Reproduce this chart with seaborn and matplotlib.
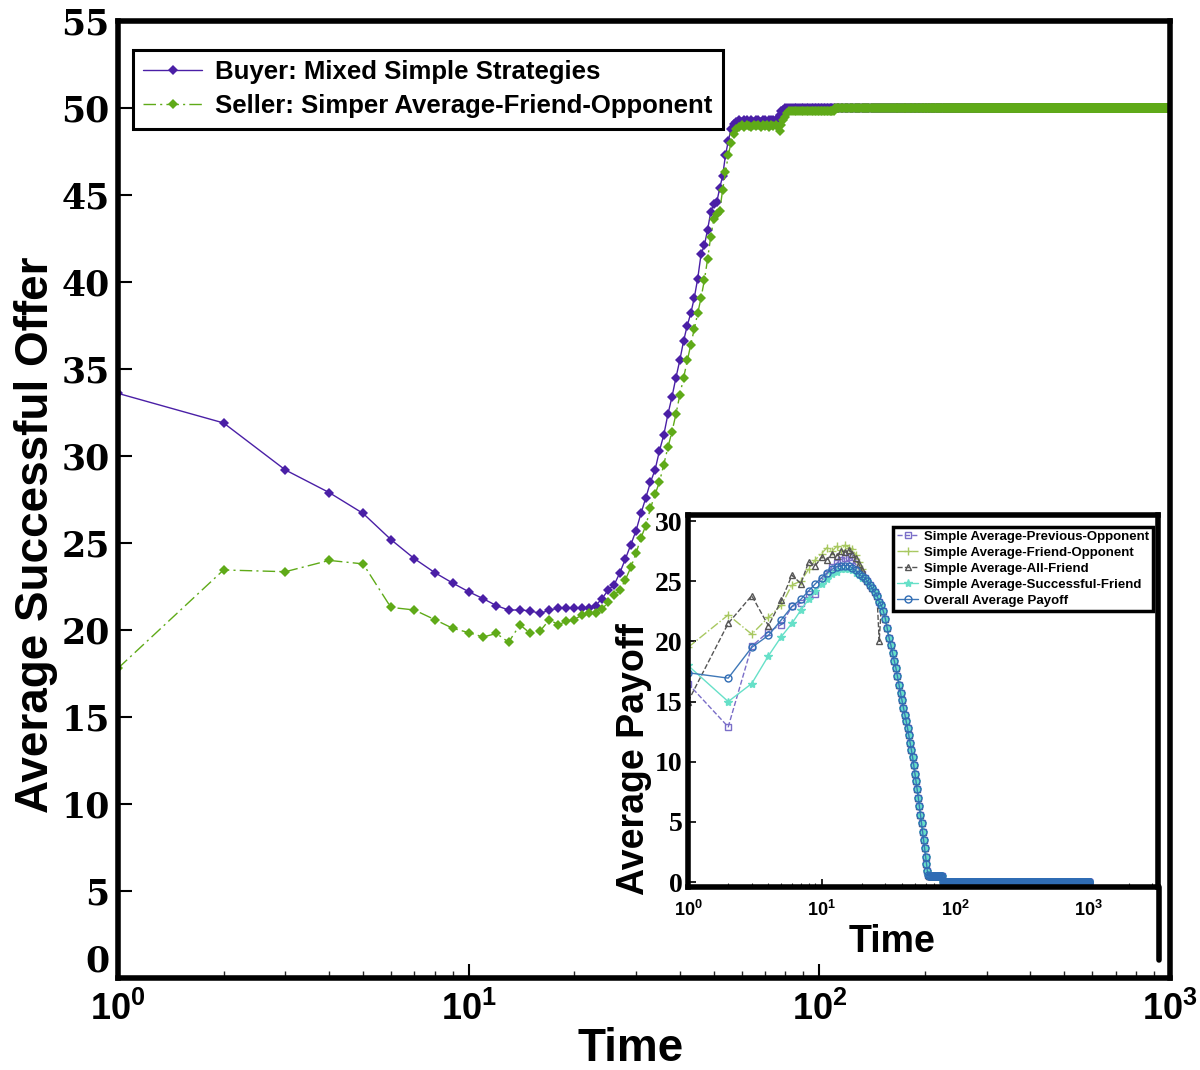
import numpy as np
import pandas as pd
import matplotlib
matplotlib.use("Agg")
import matplotlib.pyplot as plt
import seaborn as sns
from matplotlib import font_manager
from matplotlib.lines import Line2D
from matplotlib.ticker import LogLocator, NullFormatter

# ---------------- main chart data (value per time step) ----------------
buyer_early = [33.6, 31.9, 29.2, 27.9, 26.7, 25.2, 24.1, 23.3, 22.7, 22.2, 21.8, 21.4,
               21.15, 21.15, 21.1, 20.95, 21.15, 21.25, 21.25, 21.25, 21.25, 21.25, 21.4, 21.8]
buyer_rise = [22.3, 22.6, 23.3, 24.1, 24.9, 25.7, 26.7, 27.6, 28.5, 29.2, 30.3, 31.2, 32.4,
              33.4, 34.5, 35.5, 36.6, 37.5, 38.2, 39.1, 40.2, 41.6, 42.1, 43.0, 44.0, 44.5,
              44.6, 45.4, 46.1, 47.3, 48.1, 48.8, 49.1]
buyer_plateau = [49.2, 49.3, 49.2, 49.3, 49.3, 49.2, 49.3, 49.2, 49.3, 49.3, 49.2, 49.3,
                 49.3, 49.2, 49.3, 49.3, 49.3, 49.3, 49.4, 49.6, 49.8, 49.9]
buyer_final = 50.0

seller_early = [17.8, 23.45, 23.35, 24.0, 23.8, 21.3, 21.15, 20.6, 20.1, 19.85, 19.6, 19.8,
                19.3, 20.3, 19.8, 19.95, 20.6, 20.3, 20.5, 20.6, 20.85, 20.95, 21.0, 21.2]
seller_rise = [21.6, 22.0, 22.3, 22.9, 23.6, 24.4, 25.3, 26.0, 27.0, 27.8, 28.5, 29.5, 30.5,
               31.4, 32.4, 33.5, 34.5, 35.5, 36.4, 37.3, 38.2, 39.1, 40.1, 41.3, 42.6, 43.6,
               43.9, 44.1, 45.3, 46.3, 47.3, 48.0, 48.5]
seller_plateau = [48.8, 48.9, 49.0, 48.9, 49.0, 48.95, 48.9, 49.0, 48.95, 49.0, 48.9, 49.0,
                  48.95, 49.0, 48.9, 49.0, 48.95, 49.0, 48.9, 48.7, 49.0, 49.3, 49.5, 49.7, 49.8]
seller_near = 49.85
seller_final = 50.0

main_yticks = [0, 5, 10, 15, 20, 25, 30, 35, 40, 45, 50, 55]
main_xticks = [1, 10, 100, 1000]
xtick_labels = [r'$\mathbf{10^{0}}$', r'$\mathbf{10^{1}}$', r'$\mathbf{10^{2}}$', r'$\mathbf{10^{3}}$']
N_STEPS = 1000

# ---------------- inset data ----------------
prev_opp_start = [16.5, 12.9, 19.6, 20.8, 21.4, 22.9, 23.2, 23.9, 23.9, 25.0, 25.6, 26.2,
                  26.5, 26.8, 26.9, 27.0, 26.8, 26.4, 26.0, 25.6]
friend_opp_start = [19.5, 22.2, 20.6, 22.0, 23.0, 24.7, 25.0, 26.0, 26.8, 27.3, 27.8, 27.5,
                    27.9, 27.6, 28.0, 27.8, 27.7, 27.2, 26.6, 26.0]
all_friend_start = [15.0, 21.5, 23.8, 21.3, 23.4, 25.5, 24.8, 26.6, 26.3, 27.0, 26.8, 27.3,
                    27.1, 27.5, 27.4, 27.6, 27.3, 26.9, 26.4, 25.9]
succ_friend_start = [18.0, 15.0, 16.5, 18.8, 20.4, 21.5, 22.6, 23.5, 24.2, 24.8, 25.2, 25.6,
                     25.8, 26.0, 26.0, 26.0, 25.9, 25.7, 25.5, 25.3]
overall_start = [17.4, 16.95, 19.5, 20.5, 21.8, 22.9, 23.5, 24.2, 24.8, 25.3, 25.7, 26.0,
                 26.2, 26.3, 26.3, 26.3, 26.1, 25.9, 25.6, 25.4]
payoff_decline = [25.3, 25.0, 24.7, 24.4, 24.1, 23.8, 23.3, 23.0, 22.5, 21.9, 21.1, 20.3,
                  19.7, 19.0, 18.4, 17.8, 17.1, 16.4, 15.7, 15.1, 14.5, 13.9, 13.4, 12.8,
                  12.2, 11.6, 11.0, 10.4, 9.7, 9.0, 8.4, 7.7, 7.0, 6.3, 5.6, 4.9, 4.2, 3.5,
                  2.8, 2.1, 1.5, 0.9, 0.6]
payoff_bump = [0.5] * 17
payoff_final = 0.0
all_friend_dip = {27: 20.0}

inset_yticks = [0, 5, 10, 15, 20, 25, 30]
inset_names = ["Simple Average-Previous-Opponent", "Simple Average-Friend-Opponent",
               "Simple Average-All-Friend", "Simple Average-Successful-Friend",
               "Overall Average Payoff"]


def full_series(parts, tail_value):
    vals = [v for p in parts for v in p]
    return vals + [tail_value] * (N_STEPS - len(vals))


t = np.arange(1, N_STEPS + 1)
buyer = full_series([buyer_early, buyer_rise, buyer_plateau], buyer_final)
seller_part = seller_early + seller_rise + seller_plateau
seller_part = seller_part + [seller_near] * (110 - len(seller_part))
seller = full_series([seller_part], seller_final)

main_df = pd.DataFrame({"Time": t, "buyer": buyer, "seller": seller})

inset_series = []
for start in [prev_opp_start, friend_opp_start, all_friend_start, succ_friend_start, overall_start]:
    inset_series.append(full_series([start, payoff_decline, payoff_bump], payoff_final))
for k, v in all_friend_dip.items():
    inset_series[2][k - 1] = v
inset_df = pd.DataFrame({"Time": t})
for name, vals in zip(inset_names, inset_series):
    inset_df[name] = vals

# ---------------- style ----------------
sns.set_theme(style="white")
names = {f.name for f in font_manager.fontManager.ttflist}
NARROW = "Liberation Sans Narrow" if "Liberation Sans Narrow" in names else "Liberation Sans"
plt.rcParams['font.family'] = ['Liberation Sans', 'DejaVu Sans']
plt.rcParams['text.color'] = 'black'
plt.rcParams['axes.labelcolor'] = 'black'
plt.rcParams['mathtext.fontset'] = 'custom'
plt.rcParams['mathtext.bf'] = NARROW + ':bold'
plt.rcParams['mathtext.rm'] = NARROW + ':bold'

BUYER_C = "#4A1FA6"
SELLER_C = "#5FAA18"

fig = plt.figure(figsize=(12, 10.7), dpi=100)
ax = fig.add_axes([118 / 1200, 1 - 978 / 1070, 1052 / 1200, 957 / 1070])

sns.lineplot(data=main_df, x="Time", y="buyer", ax=ax, color=BUYER_C, marker="D",
             markersize=5, markeredgewidth=0, markeredgecolor=BUYER_C, linewidth=1.0,
             estimator=None, label="Buyer: Mixed Simple Strategies")
sns.lineplot(data=main_df, x="Time", y="seller", ax=ax, color=SELLER_C, marker="D",
             markersize=5, markeredgewidth=0, markeredgecolor=SELLER_C, linewidth=1.0,
             estimator=None, linestyle=(0, (9, 3, 1.5, 3)),
             label="Seller: Simper Average-Friend-Opponent")

ax.set_xscale("log")
ax.set_xlim(1, 1000)
ax.set_ylim(0, 55)
ax.set_yticks(main_yticks)
ax.set_yticklabels([str(v) for v in main_yticks])
ax.set_xticks(main_xticks)
ax.set_xticklabels(xtick_labels)
ax.xaxis.set_minor_locator(LogLocator(base=10, subs=np.arange(2, 10)))
ax.xaxis.set_minor_formatter(NullFormatter())
ax.tick_params(axis="y", direction="in", length=10, width=1.5, left=True, right=False,
               pad=6, labelsize=25, colors="black")
ax.tick_params(axis="x", which="major", direction="in", length=10, width=1.5, bottom=True,
               pad=10, labelsize=26, colors="black")
ax.tick_params(axis="x", which="minor", direction="in", length=5, width=1.0, bottom=True)
for lab in ax.get_yticklabels():
    lab.set_fontfamily("DejaVu Serif")
    lab.set_fontweight("bold")
ax.get_yticklabels()[0].set_verticalalignment("bottom")
for s in ax.spines.values():
    s.set_linewidth(4)
    s.set_color("black")

ax.set_ylabel("Average Successful Offer", fontsize=33, fontweight="bold", family=NARROW,
              color="black")
ax.yaxis.set_label_coords(-0.057, 0.463)
ax.set_xlabel("Time", fontsize=33, fontweight="bold", family=NARROW, color="black")
ax.xaxis.set_label_coords(0.487, -0.051)

leg = ax.legend(loc="upper left", bbox_to_anchor=(0.0143, 0.970), borderaxespad=0,
                frameon=True, fancybox=False, edgecolor="black", framealpha=1,
                prop={"weight": "bold", "size": 18.5, "family": "Liberation Sans"},
                handlelength=2.3, labelspacing=0.4, borderpad=0.4, handletextpad=0.5)
leg.get_frame().set_linewidth(2.2)

# ---------------- inset ----------------
axin = fig.add_axes([688 / 1200, 1 - 887 / 1070, 470 / 1200, 372 / 1070])
axin.set_facecolor("white")
inset_styles = [
    dict(color="#7A6EC8", marker="s", markerfacecolor="none", markeredgecolor="#7A6EC8",
         linestyle="--", markersize=5),
    dict(color="#A8C860", marker="+", markeredgecolor="#A8C860", linestyle="-.",
         markersize=6),
    dict(color="#555555", marker="^", markerfacecolor="none", markeredgecolor="#555555",
         linestyle="--", markersize=5),
    dict(color="#66E0C8", marker="*", markeredgecolor="#66E0C8", linestyle="-",
         markersize=6),
    dict(color="#3F78B8", marker="o", markerfacecolor="none", markeredgecolor="#2F6CB4",
         linestyle="-", markersize=5),
]
for name, st in zip(inset_names, inset_styles):
    sns.lineplot(data=inset_df, x="Time", y=name, ax=axin, linewidth=1.0, estimator=None,
                 markeredgewidth=1.0, label=name, **st)

axin.set_xscale("log")
axin.set_xlim(1, 3300)
axin.set_ylim(-0.4, 30.5)
axin.set_yticks(inset_yticks)
axin.set_yticklabels([str(v) for v in inset_yticks])
axin.set_xticks(main_xticks)
axin.set_xticklabels(xtick_labels)
axin.xaxis.set_minor_locator(LogLocator(base=10, subs=np.arange(2, 10)))
axin.xaxis.set_minor_formatter(NullFormatter())
axin.tick_params(axis="y", direction="in", length=6, width=1.2, left=True, pad=4,
                 labelsize=20, colors="black")
axin.tick_params(axis="x", which="major", direction="in", length=6, width=1.2, bottom=True,
                 pad=9, labelsize=13, colors="black")
axin.tick_params(axis="x", which="minor", direction="in", length=3, width=0.8, bottom=True)
for lab in axin.get_yticklabels():
    lab.set_fontfamily("Liberation Serif")
    lab.set_fontweight("bold")
for s in axin.spines.values():
    s.set_linewidth(4)
    s.set_color("black")
axin.set_ylabel("Average Payoff", fontsize=27, fontweight="bold", family="Liberation Sans",
                color="black")
axin.yaxis.set_label_coords(-0.077, 0.344)
axin.set_xlabel("Time", fontsize=27, fontweight="bold", family="Liberation Sans",
                color="black")
axin.xaxis.set_label_coords(0.434, -0.1)

leg2 = axin.legend(loc="upper right", bbox_to_anchor=(0.989, 0.968), borderaxespad=0,
                   frameon=True, fancybox=False, edgecolor="black", framealpha=1,
                   prop={"weight": "bold", "size": 9.5, "family": "Liberation Sans"},
                   handlelength=1.6, labelspacing=0.28, borderpad=0.3, handletextpad=0.4)
leg2.get_frame().set_linewidth(2.5)

fig.add_artist(Line2D([1159 / 1200, 1159 / 1200], [1 - 887 / 1070, 1 - 960 / 1070],
                      color="black", linewidth=4, transform=fig.transFigure))

fig.savefig("out.png", dpi=100, facecolor="white")
